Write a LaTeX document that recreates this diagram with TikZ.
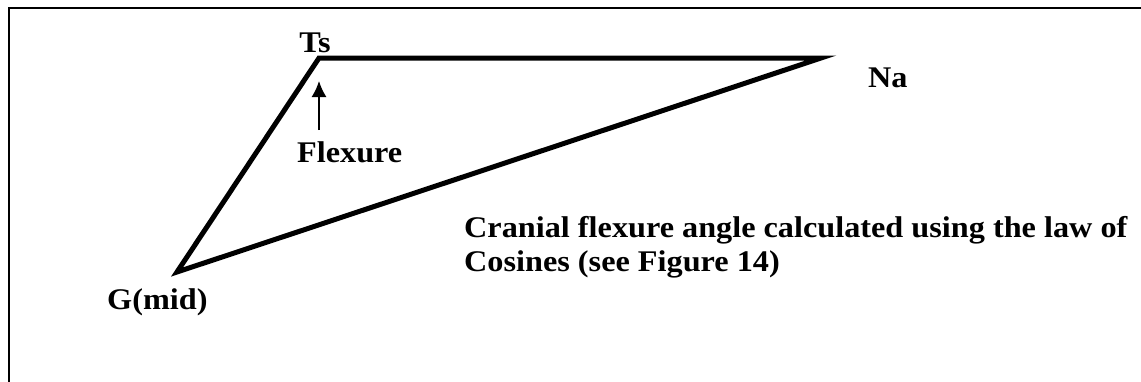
\documentclass[tikz,border=0pt]{standalone}
\usepackage{fontspec}
\setmainfont{Liberation Serif}[FakeStretch=1.075]
\usepackage{tikz}
\usetikzlibrary{arrows.meta,positioning,calc}

\begin{document}
\begin{tikzpicture}[
  x=1pt,y=-1pt,
  >=Latex,
  lbl/.style={font=\fontsize{30}{34}\selectfont\bfseries,inner sep=0pt},
  side/.style={line width=5pt,line join=miter},
  pointer/.style={-{Latex[length=16pt,width=15pt]},line width=1.6pt}
]
\useasboundingbox (0,0) rectangle (1141,381);
\fill[white] (0,0) rectangle (1141,381);
\draw[line width=1.6pt] (9,395) -- (9,8) -- (1160,8);
% landmarks
\coordinate (ts) at (319,58);
\coordinate (na) at (821,58);
\coordinate (g) at (177,272);
\draw[side] (g)--(ts)--(na)--cycle;
\node[lbl,anchor=base] (tsl) at (315,52) {Ts};
\node[lbl,anchor=base west] (nal) at (868,87) {Na};
\node[lbl,anchor=base west] (gl) at (107,309) {G(mid)};
\node[lbl,anchor=base west] (fl) at (297,162) {Flexure};
\coordinate (ftop) at (319,130);
\coordinate (atip) at (319,81);
\draw[pointer] (ftop)--(atip);
\node[lbl,anchor=base west,align=left] (note) at (464,271) {Cranial flexure angle calculated using the law of\\Cosines (see Figure 14)};
\end{tikzpicture}
\end{document}
